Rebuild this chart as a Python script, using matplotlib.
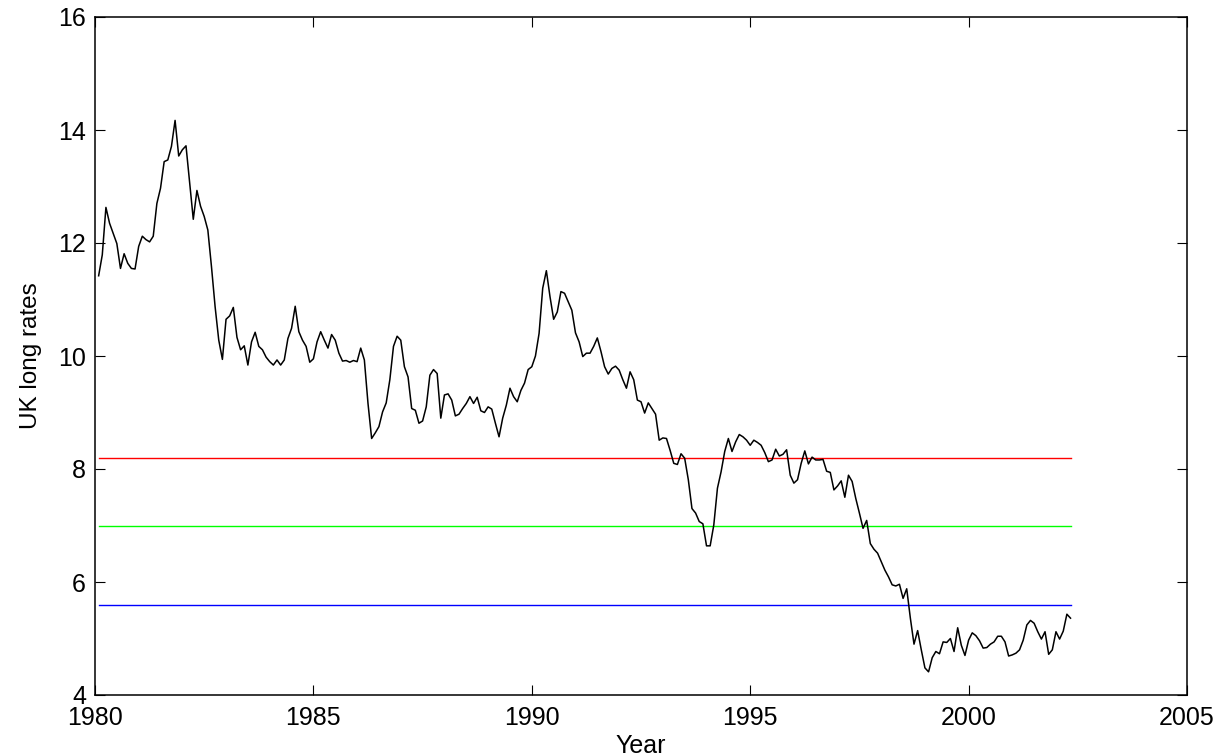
import numpy as np
import matplotlib
matplotlib.use("Agg")
import matplotlib.pyplot as plt

# Monthly UK long rates, starting Feb 1980
start_year = 1980
first_month_offset = 1  # first observation at 1980 + 1/12
uk_long_rates = [
    11.42, 11.79, 12.63, 12.35, 12.17, 11.99, 11.55, 11.81, 11.64, 11.55, 11.54, 11.94,
    12.12, 12.06, 12.02, 12.12, 12.70, 12.97, 13.44, 13.47, 13.71, 14.17, 13.54, 13.65,
    13.72, 13.06, 12.42, 12.93, 12.65, 12.47, 12.23, 11.58, 10.87, 10.28, 9.94, 10.65,
    10.71, 10.86, 10.33, 10.11, 10.18, 9.84,
    10.25, 10.42, 10.17,
    10.11, 9.98, 9.90, 9.84, 9.93, 9.84, 9.93, 10.31, 10.49, 10.88, 10.43, 10.28, 10.17,
    9.89, 9.95, 10.25, 10.43, 10.28, 10.14, 10.38, 10.28, 10.05, 9.91, 9.92, 9.89, 9.92,
    9.90, 10.14, 9.93, 9.16, 8.54, 8.64, 8.75, 9.01, 9.17, 9.58, 10.17, 10.35, 10.28,
    9.81, 9.63, 9.07, 9.04, 8.81, 8.85, 9.10, 9.66, 9.76, 9.69, 8.90, 9.31, 9.33, 9.22,
    8.94, 8.97, 9.07, 9.16, 9.28, 9.16, 9.27, 9.03, 9.00, 9.10, 9.06, 8.81, 8.57, 8.90,
    9.13, 9.43, 9.28, 9.19,
    9.39, 9.52, 9.76, 9.81, 10.00, 10.40, 11.20, 11.51, 11.05, 10.65, 10.78, 11.14,
    11.11, 10.96, 10.81, 10.41, 10.25, 9.99, 10.05, 10.05, 10.17, 10.32, 10.08, 9.81,
    9.68, 9.78, 9.82, 9.75, 9.58, 9.43, 9.72, 9.58, 9.22, 9.19, 8.99, 9.17, 9.07, 8.97,
    8.51, 8.55, 8.54, 8.33, 8.10, 8.08, 8.27, 8.19, 7.81,
    7.30, 7.22, 7.07, 7.03, 6.64, 6.64, 7.01, 7.66, 7.95, 8.31, 8.54, 8.31, 8.48, 8.61,
    8.57, 8.51, 8.42, 8.51, 8.47, 8.42, 8.29, 8.13, 8.16, 8.35, 8.23, 8.26, 8.34, 7.89,
    7.75, 7.81, 8.10, 8.32, 8.09, 8.21, 8.16, 8.16, 8.17, 7.96, 7.94, 7.63, 7.70, 7.79,
    7.50, 7.89, 7.78, 7.48, 7.22, 6.95, 7.09, 6.68, 6.58, 6.51, 6.36, 6.21, 6.09, 5.95,
    5.93, 5.96,
    5.71, 5.88, 5.36, 4.90, 5.14, 4.80, 4.48, 4.41, 4.66, 4.77, 4.73, 4.94, 4.93, 5.00,
    4.77, 5.19, 4.88, 4.70, 4.97, 5.10, 5.05, 4.96, 4.83, 4.84, 4.90, 4.94, 5.04, 5.04,
    4.94, 4.69, 4.71, 4.74, 4.80, 4.97, 5.24, 5.32, 5.27, 5.12, 4.99, 5.12, 4.72, 4.80,
    5.12, 4.99, 5.13, 5.43, 5.36,
]

# Horizontal reference levels
level_values = [8.2, 7.0, 5.6]
level_colors = ["#ff0000", "#00ff00", "#0000ff"]

x_ticks = [1980, 1985, 1990, 1995, 2000, 2005]
y_ticks = [4, 6, 8, 10, 12, 14, 16]
x_label = "Year"
y_label = "UK long rates"

years = start_year + (np.arange(len(uk_long_rates)) + first_month_offset) / 12.0

plt.rcParams['font.family'] = ['Liberation Sans', 'DejaVu Sans']

fig = plt.figure(figsize=(12.24, 7.56), dpi=100)
ax = fig.add_axes([95 / 1224, 1 - 695 / 756, 1092 / 1224, 678 / 756])

for lv, lc in zip(level_values, level_colors):
    ax.plot([years[0], years[-1]], [lv, lv], color=lc, linewidth=1.0)

ax.plot(years, uk_long_rates, color="black", linewidth=1.1)

ax.set_xlim(1980, 2005)
ax.set_ylim(4, 16)
ax.set_xticks(x_ticks)
ax.set_yticks(y_ticks)
ax.tick_params(direction="in", top=True, right=True, length=7, width=0.8,
               labelsize=18, colors="black")
ax.tick_params(axis="x", pad=8)
ax.tick_params(axis="y", pad=6.5)
for s in ax.spines.values():
    s.set_linewidth(1.1)

ax.set_xlabel(x_label, fontsize=18)
ax.set_ylabel(y_label, fontsize=17.5)
ax.xaxis.set_label_coords(0.5, -0.058)
ax.yaxis.set_label_coords(-0.0485, 0.5)

fig.savefig("out.png", dpi=100)
